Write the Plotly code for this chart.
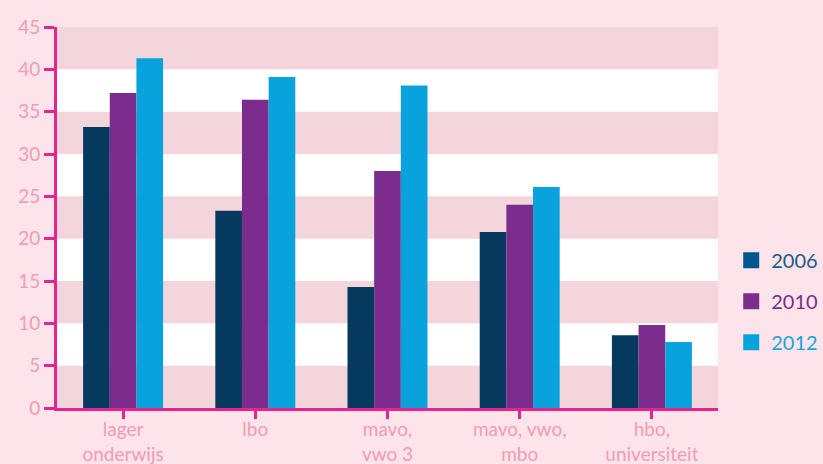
import plotly.graph_objects as go

categories = ["lager<br>onderwijs", "lbo", "mavo,<br>vwo 3", "mavo, vwo,<br>mbo", "hbo,<br>universiteit"]
years = ["2006", "2010", "2012"]
v2006 = [33.2, 23.3, 14.3, 20.8, 8.6]
v2010 = [37.2, 36.4, 28.0, 24.0, 9.8]
v2012 = [41.3, 39.1, 38.1, 26.1, 7.8]
y_ticks = [0, 5, 10, 15, 20, 25, 30, 35, 40, 45]

bar_colors = ["#053a5e", "#7a2d8c", "#08a3dc"]
legend_colors = ["#00568f", "#7a2d8c", "#08a3dc"]
legend_text = ["#1d5a8a", "#7a2d8c", "#1aa6dc"]

fig = go.Figure()
for name, vals, col in zip(years, [v2006, v2010, v2012], bar_colors):
    fig.add_trace(go.Bar(x=categories, y=vals, name=name, marker_color=col,
                         marker_line_width=0, showlegend=False))

for i, (name, col, tcol) in enumerate(zip(years, legend_colors, legend_text)):
    fig.add_trace(go.Scatter(x=[None], y=[None], mode="markers",
                             name=f"<span style='color:{tcol}'>{name}</span>",
                             legendgroup=name,
                             marker=dict(symbol="square", size=19, color=col)))

# alternating background bands
for i in range(len(y_ticks) - 1):
    if i % 2 == 0:
        fig.add_shape(type="rect", xref="paper", yref="y", x0=0, x1=1,
                      y0=y_ticks[i], y1=y_ticks[i + 1], fillcolor="#f4d5dc",
                      line_width=0, layer="below")

fig.update_layout(
    width=823, height=464, autosize=False,
    margin=dict(l=57, r=105, t=27, b=56, autoexpand=False),
    paper_bgcolor="#fce4ea", plot_bgcolor="#ffffff",
    barmode="group", bargap=0.395, bargroupgap=0,
    font=dict(family="Lato", size=19, color="#f09cb6"),
    legend=dict(x=1.02, xanchor="left", y=0.28, yanchor="middle",
                font=dict(size=20), tracegroupgap=12, itemwidth=30,
                bgcolor="rgba(0,0,0,0)"),
    xaxis=dict(showline=True, linecolor="#e6248e", linewidth=3,
               ticks="outside", ticklen=8, tickwidth=3, tickcolor="#e6248e",
               showgrid=False, automargin=False, ticklabelstandoff=-6,
               tickfont=dict(size=19, color="#f09cb6")),
    yaxis=dict(range=[0, 45], tickvals=y_ticks, showline=True,
               linecolor="#e6248e", linewidth=3, ticks="outside", ticklen=10,
               tickwidth=3, tickcolor="#e6248e", showgrid=False, zeroline=False,
               automargin=False, tickfont=dict(size=19, color="#f09cb6")),
)

post = ("document.body.style.margin='0';document.body.style.padding='0';"
        "document.documentElement.style.background='#fce4ea';"
        "var gd=document.getElementById('{plot_id}');"
        "gd.style.width='823px';gd.style.height='464px';"
        "Plotly.relayout(gd,{width:823,height:464});")

fig.write_html("out.html", post_script=post, config={"displayModeBar": False},
               default_width="823px", default_height="464px")
